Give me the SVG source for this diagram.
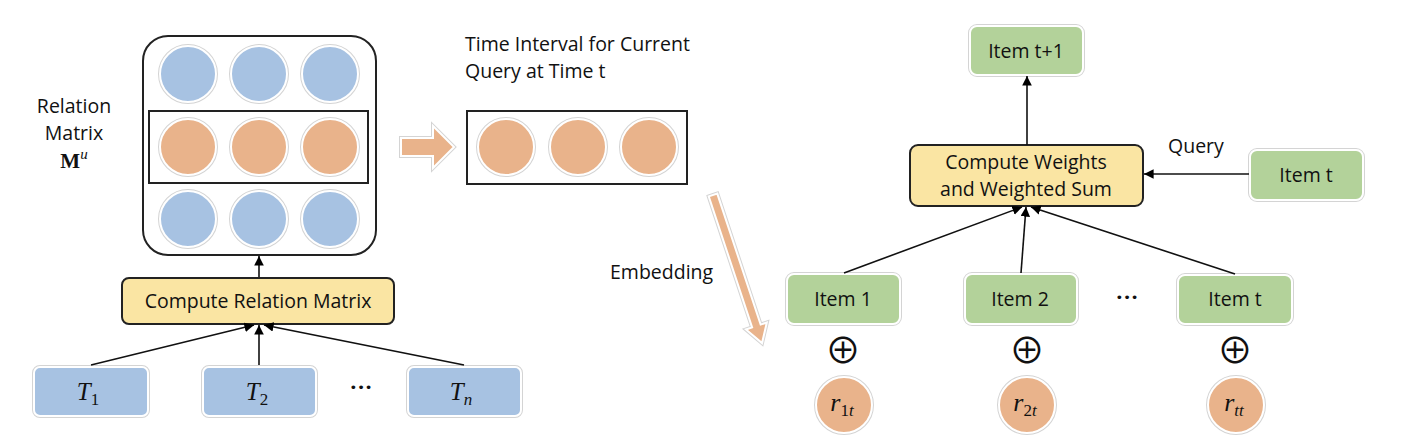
<svg xmlns="http://www.w3.org/2000/svg" width="1404" height="448" viewBox="0 0 1404 448">
<defs>
<marker id="ah" viewBox="0 0 10 10" refX="10" refY="5" markerWidth="6" markerHeight="6" orient="auto" markerUnits="strokeWidth">
<path d="M0,0 L10,5 L0,10 z" fill="#000"/>
</marker>
<style>
.lbl{font-family:"Open Sans","Liberation Sans",sans-serif;font-size:19.5px;fill:#111}
.ctr{text-anchor:middle}
.math{font-family:"Liberation Serif",serif;font-style:italic;fill:#111}
.sub{font-style:normal}
.ring{fill:none;stroke:#d4d4d4;stroke-width:4}
.blue{fill:#a7c2e2;stroke:#fff;stroke-width:2}
.orange{fill:#e9b38b;stroke:#fff;stroke-width:2}
.green{fill:#b3d29a;stroke:#fff;stroke-width:2}
.yellow{fill:#fae5a3;stroke:#222;stroke-width:2}
.conn{stroke:#111;stroke-width:1.6;fill:none}
.dots{font-family:"DejaVu Sans",sans-serif;font-size:13px;fill:#111;text-anchor:middle}
.oplus{font-family:"Noto Sans CJK JP","DejaVu Sans",sans-serif;font-size:36px;fill:#111;text-anchor:middle}
</style>
</defs>
<rect width="1404" height="448" fill="#fff"/>

<g id="relation-label">
<text class="lbl ctr" x="74" y="113">Relation</text>
<text class="lbl ctr" x="74" y="140">Matrix</text>
<text x="74" y="168" text-anchor="middle" font-family="Liberation Serif,serif" font-size="21" fill="#111"><tspan font-weight="bold">M</tspan><tspan font-style="italic" font-size="15" dy="-9">u</tspan></text>
</g>

<g id="relation-matrix">
<rect x="143" y="36" width="233" height="219" rx="25" fill="#fff" stroke="#222" stroke-width="2"/>
<g>
<circle class="ring" cx="188" cy="74" r="28"/><circle class="blue" cx="188" cy="74" r="28"/>
<circle class="ring" cx="259" cy="74" r="28"/><circle class="blue" cx="259" cy="74" r="28"/>
<circle class="ring" cx="330" cy="74" r="28"/><circle class="blue" cx="330" cy="74" r="28"/>
</g>
<rect x="149" y="111" width="219" height="72" fill="none" stroke="#222" stroke-width="2"/>
<g>
<circle class="ring" cx="188" cy="147" r="28"/><circle class="orange" cx="188" cy="147" r="28"/>
<circle class="ring" cx="259" cy="147" r="28"/><circle class="orange" cx="259" cy="147" r="28"/>
<circle class="ring" cx="330" cy="147" r="28"/><circle class="orange" cx="330" cy="147" r="28"/>
</g>
<g>
<circle class="ring" cx="188" cy="219" r="28"/><circle class="blue" cx="188" cy="219" r="28"/>
<circle class="ring" cx="259" cy="219" r="28"/><circle class="blue" cx="259" cy="219" r="28"/>
<circle class="ring" cx="330" cy="219" r="28"/><circle class="blue" cx="330" cy="219" r="28"/>
</g>
</g>

<g id="compute-relation">
<rect class="yellow" x="122" y="278" width="272" height="46" rx="7"/>
<text class="lbl ctr" x="258" y="308">Compute Relation Matrix</text>
</g>

<g id="T1">
<rect class="ring" x="34" y="367" width="114" height="49" rx="6"/>
<rect class="blue" x="34" y="367" width="114" height="49" rx="6"/>
<text class="math" x="88" y="400" font-size="25" text-anchor="middle">T<tspan class="sub" font-size="17" dy="5">1</tspan></text>
</g>
<g id="T2">
<rect class="ring" x="203" y="367" width="113" height="49" rx="6"/>
<rect class="blue" x="203" y="367" width="113" height="49" rx="6"/>
<text class="math" x="257" y="400" font-size="25" text-anchor="middle">T<tspan class="sub" font-size="17" dy="5">2</tspan></text>
</g>
<text class="dots" x="361" y="392">•••</text>
<g id="Tn">
<rect class="ring" x="408" y="367" width="113" height="49" rx="6"/>
<rect class="blue" x="408" y="367" width="113" height="49" rx="6"/>
<text class="math" x="461" y="400" font-size="25" text-anchor="middle">T<tspan font-size="17" dy="5">n</tspan></text>
</g>

<g id="block-arrow">
<polygon class="ring" points="401,138 433,138 433,126 454,147 433,168 433,156 401,156"/>
<polygon class="orange" points="401,138 433,138 433,126 454,147 433,168 433,156 401,156"/>
</g>

<g id="time-interval">
<text class="lbl" x="465" y="51">Time Interval for Current</text>
<text class="lbl" x="465" y="78">Query at Time t</text>
<rect x="467" y="111" width="220" height="73" fill="none" stroke="#222" stroke-width="2"/>
<circle class="ring" cx="506" cy="147" r="28"/><circle class="orange" cx="506" cy="147" r="28"/>
<circle class="ring" cx="578" cy="147" r="28"/><circle class="orange" cx="578" cy="147" r="28"/>
<circle class="ring" cx="649" cy="147" r="28"/><circle class="orange" cx="649" cy="147" r="28"/>
</g>

<g id="embedding-arrow">
<g transform="translate(713,195) rotate(-18.32)">
<polygon class="ring" points="-4.5,0 4.5,0 4.5,138 11,138 0,156 -11,138 -4.5,138"/>
<polygon class="orange" points="-4.5,0 4.5,0 4.5,138 11,138 0,156 -11,138 -4.5,138"/>
</g>
<text class="lbl" x="610" y="279">Embedding</text>
</g>

<g id="item-t1">
<rect class="ring" x="970" y="26" width="113" height="49" rx="7"/>
<rect class="green" x="970" y="26" width="113" height="49" rx="7"/>
<text class="lbl ctr" x="1026" y="58">Item t+1</text>
</g>

<g id="compute-weights">
<rect class="yellow" x="910" y="145" width="233" height="61" rx="8"/>
<text class="lbl ctr" x="1026" y="169">Compute Weights</text>
<text class="lbl ctr" x="1026" y="196">and Weighted Sum</text>
</g>

<text class="lbl" x="1168" y="153">Query</text>
<g id="item-t-query">
<rect class="ring" x="1250" y="150" width="113" height="50" rx="7"/>
<rect class="green" x="1250" y="150" width="113" height="50" rx="7"/>
<text class="lbl ctr" x="1306" y="182">Item t</text>
</g>

<g id="item1">
<rect class="ring" x="787" y="274" width="113" height="50" rx="7"/>
<rect class="green" x="787" y="274" width="113" height="50" rx="7"/>
<text class="lbl ctr" x="843" y="306">Item 1</text>
</g>
<g id="item2">
<rect class="ring" x="965" y="274" width="112" height="50" rx="7"/>
<rect class="green" x="965" y="274" width="112" height="50" rx="7"/>
<text class="lbl ctr" x="1020" y="306">Item 2</text>
</g>
<text class="dots" x="1127" y="302">•••</text>
<g id="itemt">
<rect class="ring" x="1178" y="275" width="114" height="49" rx="7"/>
<rect class="green" x="1178" y="275" width="114" height="49" rx="7"/>
<text class="lbl ctr" x="1235" y="306">Item t</text>
</g>

<g id="oplus">
<text class="oplus" x="843" y="364">⊕</text>
<text class="oplus" x="1027" y="364">⊕</text>
<text class="oplus" x="1235" y="364">⊕</text>
</g>

<g id="r1t">
<circle class="ring" cx="844" cy="405" r="28"/><circle class="orange" cx="844" cy="405" r="28"/>
<text class="math" x="842" y="411" font-size="26" text-anchor="middle">r<tspan class="sub" font-size="17" dy="5">1</tspan><tspan font-size="17">t</tspan></text>
</g>
<g id="r2t">
<circle class="ring" cx="1027" cy="405" r="28"/><circle class="orange" cx="1027" cy="405" r="28"/>
<text class="math" x="1025" y="411" font-size="26" text-anchor="middle">r<tspan class="sub" font-size="17" dy="5">2</tspan><tspan font-size="17">t</tspan></text>
</g>
<g id="rtt">
<circle class="ring" cx="1236" cy="405" r="28"/><circle class="orange" cx="1236" cy="405" r="28"/>
<text class="math" x="1234" y="411" font-size="26" text-anchor="middle">r<tspan font-size="17" dy="5">tt</tspan></text>
</g>

<g id="connectors">
<line class="conn" x1="259" y1="277" x2="259" y2="256" marker-end="url(#ah)"/>
<line class="conn" x1="91" y1="365" x2="254" y2="325" marker-end="url(#ah)"/>
<line class="conn" x1="259" y1="365" x2="259" y2="325" marker-end="url(#ah)"/>
<line class="conn" x1="464" y1="365" x2="264" y2="325" marker-end="url(#ah)"/>
<line class="conn" x1="1027" y1="145" x2="1027" y2="76" marker-end="url(#ah)"/>
<line class="conn" x1="1249" y1="174" x2="1144" y2="174" marker-end="url(#ah)"/>
<line class="conn" x1="844" y1="273" x2="1022" y2="207" marker-end="url(#ah)"/>
<line class="conn" x1="1021" y1="273" x2="1026" y2="207" marker-end="url(#ah)"/>
<line class="conn" x1="1235" y1="274" x2="1031" y2="207" marker-end="url(#ah)"/>
</g>
</svg>
